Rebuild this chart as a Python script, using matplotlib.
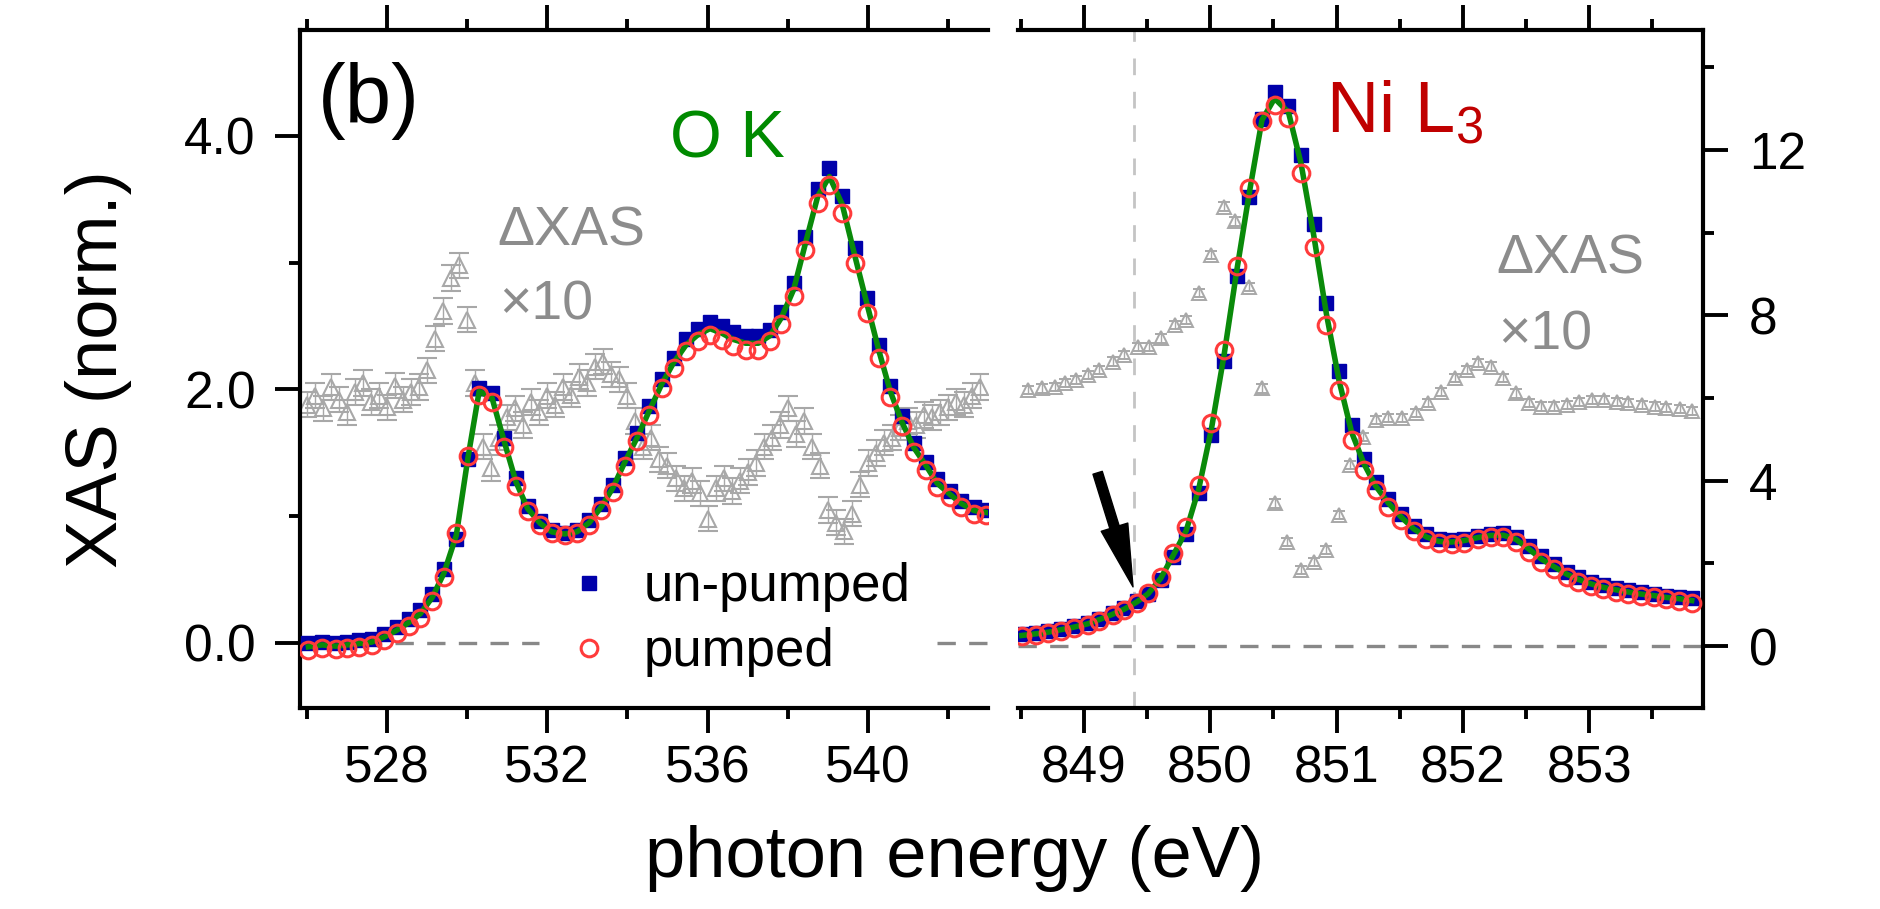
import matplotlib
matplotlib.use('Agg')
import matplotlib.pyplot as plt
from matplotlib.ticker import MultipleLocator, FormatStrFormatter

plt.rcParams['font.family'] = ['Liberation Sans', 'DejaVu Sans']
plt.rcParams['mathtext.fontset'] = 'custom'
plt.rcParams['mathtext.rm'] = 'Liberation Sans'
plt.rcParams['mathtext.it'] = 'Liberation Sans:italic'

# ---- O K edge (left panel, left axis) ----
ok_energy = [526.04, 526.38, 526.73, 527.01, 527.30, 527.62, 527.93, 528.24, 528.54, 528.83,
             529.13, 529.42, 529.73, 530.02, 530.30, 530.62, 530.93, 531.22, 531.51, 531.82,
             532.11, 532.43, 532.74, 533.05, 533.35, 533.63, 533.94, 534.25, 534.55, 534.86,
             535.15, 535.46, 535.75, 536.06, 536.35, 536.64, 536.95, 537.27, 537.56, 537.84,
             538.15, 538.44, 538.75, 539.04, 539.36, 539.67, 539.99, 540.28, 540.56, 540.84,
             541.14, 541.45, 541.73, 542.04, 542.33, 542.65, 542.94]
ok_pumped = [-0.055, -0.04, -0.05, -0.04, -0.03, -0.016, 0.024, 0.076, 0.134, 0.20,
             0.33, 0.52, 0.87, 1.475, 1.96, 1.90, 1.55, 1.24, 1.04, 0.93,
             0.865, 0.85, 0.865, 0.93, 1.05, 1.19, 1.40, 1.59, 1.80, 2.01,
             2.17, 2.30, 2.38, 2.43, 2.39, 2.34, 2.31, 2.31, 2.38, 2.52,
             2.74, 3.10, 3.47, 3.61, 3.39, 3.00, 2.60, 2.25, 1.94, 1.71,
             1.51, 1.365, 1.23, 1.15, 1.075, 1.02, 1.01]
ok_unpumped = [0.0, 0.01, 0.0, 0.01, 0.02, 0.03, 0.07, 0.13, 0.19, 0.26,
               0.39, 0.585, 0.82, 1.45, 2.01, 1.97, 1.62, 1.30, 1.08, 0.96,
               0.89, 0.87, 0.89, 0.97, 1.10, 1.25, 1.46, 1.66, 1.87, 2.08,
               2.25, 2.40, 2.48, 2.53, 2.50, 2.45, 2.42, 2.42, 2.47, 2.61,
               2.84, 3.20, 3.58, 3.75, 3.53, 3.12, 2.72, 2.35, 2.03, 1.79,
               1.58, 1.43, 1.29, 1.20, 1.12, 1.07, 1.05]
ok_fit = [-0.03, -0.015, -0.025, -0.015, -0.005, 0.007, 0.047, 0.10, 0.16, 0.23,
          0.36, 0.55, 0.85, 1.46, 1.985, 1.935, 1.585, 1.27, 1.06, 0.945,
          0.877, 0.86, 0.877, 0.95, 1.075, 1.22, 1.43, 1.625, 1.835, 2.045,
          2.21, 2.35, 2.43, 2.48, 2.445, 2.395, 2.365, 2.365, 2.425, 2.565,
          2.79, 3.15, 3.525, 3.68, 3.46, 3.06, 2.66, 2.30, 1.985, 1.75,
          1.545, 1.40, 1.26, 1.175, 1.10, 1.045, 1.03]

ok_d_energy = [526.0, 526.2, 526.4, 526.6, 526.8, 527.0, 527.2, 527.4, 527.6, 527.8,
               528.0, 528.2, 528.4, 528.6, 528.8, 529.0, 529.2, 529.4, 529.6, 529.8,
               530.0, 530.2, 530.4, 530.6, 530.8, 531.0, 531.2, 531.4, 531.6, 531.8,
               532.0, 532.2, 532.4, 532.6, 532.8, 533.0, 533.2, 533.4, 533.6, 533.8,
               534.0, 534.2, 534.4, 534.6, 534.8, 535.0, 535.2, 535.4, 535.6, 535.8,
               536.0, 536.2, 536.4, 536.6, 536.8, 537.0, 537.2, 537.4, 537.6, 537.8,
               538.0, 538.2, 538.4, 538.6, 538.8, 539.0, 539.2, 539.4, 539.6, 539.8,
               540.0, 540.2, 540.4, 540.6, 540.8, 541.0, 541.2, 541.4, 541.6, 541.8,
               542.0, 542.2, 542.4, 542.6, 542.8]
ok_delta = [1.88, 1.95, 1.85, 2.02, 1.92, 1.82, 1.98, 2.05, 1.90, 1.95,
            1.86, 2.03, 1.92, 1.98, 2.02, 2.15, 2.40, 2.62, 2.88, 2.98,
            2.55, 2.05, 1.55, 1.38, 1.62, 1.78, 1.85, 1.72, 1.90, 1.82,
            1.95, 1.88, 2.02, 1.96, 2.10, 2.05, 2.18, 2.22, 2.12, 2.08,
            1.95, 1.75, 1.55, 1.62, 1.45, 1.40, 1.30, 1.22, 1.28, 1.18,
            0.98, 1.22, 1.30, 1.20, 1.28, 1.35, 1.42, 1.55, 1.62, 1.72,
            1.85, 1.65, 1.75, 1.55, 1.40, 1.05, 0.95, 0.88, 1.02, 1.25,
            1.42, 1.50, 1.58, 1.62, 1.70, 1.75, 1.72, 1.80, 1.78, 1.82,
            1.86, 1.90, 1.88, 1.95, 2.02]

# ---- Ni L3 edge (right panel, right axis) ----
ni_energy = [848.51, 848.62, 848.72, 848.82, 848.92, 849.03, 849.12, 849.23, 849.32, 849.42,
             849.51, 849.61, 849.71, 849.81, 849.91, 850.01, 850.11, 850.21, 850.31, 850.41,
             850.51, 850.62, 850.72, 850.82, 850.92, 851.02, 851.12, 851.22, 851.31, 851.41,
             851.51, 851.61, 851.71, 851.81, 851.91, 852.01, 852.12, 852.22, 852.32, 852.42,
             852.52, 852.62, 852.72, 852.82, 852.91, 853.01, 853.11, 853.21, 853.31, 853.41,
             853.51, 853.61, 853.71, 853.81]
ni_pumped = [0.23, 0.27, 0.31, 0.37, 0.43, 0.51, 0.61, 0.75, 0.87, 1.05,
             1.28, 1.68, 2.26, 2.87, 3.90, 5.39, 7.16, 9.18, 11.07, 12.69,
             13.09, 12.77, 11.44, 9.66, 7.77, 6.19, 4.98, 4.26, 3.77, 3.37,
             3.05, 2.77, 2.58, 2.48, 2.47, 2.50, 2.58, 2.63, 2.63, 2.52,
             2.28, 2.04, 1.86, 1.68, 1.56, 1.45, 1.37, 1.31, 1.26, 1.21,
             1.18, 1.13, 1.10, 1.05]
ni_unpumped = [0.28, 0.32, 0.36, 0.42, 0.48, 0.56, 0.66, 0.79, 0.91, 1.08,
               1.25, 1.60, 2.15, 2.70, 3.70, 5.10, 6.90, 8.95, 10.85, 12.75,
               13.40, 13.05, 11.88, 10.20, 8.30, 6.65, 5.35, 4.52, 3.97, 3.55,
               3.20, 2.90, 2.70, 2.58, 2.56, 2.60, 2.67, 2.72, 2.73, 2.64,
               2.42, 2.17, 1.98, 1.80, 1.67, 1.56, 1.47, 1.41, 1.35, 1.30,
               1.26, 1.22, 1.19, 1.15]
ni_fit = [0.255, 0.295, 0.335, 0.395, 0.455, 0.535, 0.635, 0.77, 0.89, 1.065,
          1.265, 1.64, 2.205, 2.785, 3.80, 5.245, 7.03, 9.065, 10.96, 12.72,
          13.245, 12.91, 11.66, 9.93, 8.035, 6.42, 5.165, 4.39, 3.87, 3.46,
          3.125, 2.835, 2.64, 2.53, 2.515, 2.55, 2.625, 2.675, 2.68, 2.58,
          2.35, 2.105, 1.92, 1.74, 1.615, 1.505, 1.42, 1.36, 1.305, 1.255,
          1.22, 1.175, 1.145, 1.10]

ni_d_energy = [848.56, 848.67, 848.77, 848.85, 848.94, 849.03, 849.12, 849.23, 849.32, 849.43,
               849.52, 849.61, 849.72, 849.81, 849.91, 850.01, 850.11, 850.20, 850.31, 850.41,
               850.51, 850.61, 850.72, 850.82, 850.92, 851.02, 851.11, 851.21, 851.31, 851.41,
               851.52, 851.63, 851.72, 851.83, 851.94, 852.03, 852.12, 852.22, 852.32, 852.42,
               852.52, 852.62, 852.72, 852.82, 852.92, 853.02, 853.12, 853.22, 853.31, 853.42,
               853.52, 853.61, 853.72, 853.81]
ni_delta = [6.19, 6.23, 6.27, 6.36, 6.44, 6.56, 6.68, 6.88, 7.04, 7.24,
            7.24, 7.44, 7.77, 7.89, 8.53, 9.46, 10.63, 10.27, 8.69, 6.23,
            3.45, 2.52, 1.84, 2.04, 2.32, 3.17, 4.38, 5.06, 5.47, 5.51,
            5.51, 5.63, 5.87, 6.15, 6.48, 6.68, 6.84, 6.76, 6.48, 6.11,
            5.87, 5.79, 5.79, 5.83, 5.91, 5.95, 5.95, 5.91, 5.87, 5.83,
            5.79, 5.75, 5.73, 5.69]

BLUE = '#0000aa'
RED = '#ff3b3b'
GREEN = '#0a8a0a'
GRAY = '#a8a8a8'
TXTGRAY = '#8c8c8c'

fig = plt.figure(figsize=(18.81, 9.09), dpi=100)
ax1 = fig.add_axes([0.1595, 0.2211, 0.3658, 0.7459])
ax2 = fig.add_axes([0.5412, 0.2211, 0.3642, 0.7459])

# left panel
ax1.errorbar(ok_d_energy, ok_delta, yerr=0.1, fmt='^', ms=11, mfc='none', mec=GRAY, mew=1.5,
             ecolor=GRAY, elinewidth=1, capsize=7, zorder=2)
ax1.plot(ok_energy, ok_unpumped, 's', color=BLUE, ms=10, zorder=3, label='un-pumped')
ax1.plot(ok_energy, ok_fit, '-', color=GREEN, lw=4, zorder=4)
ax1.plot(ok_energy, ok_pumped, 'o', mfc='none', mec=RED, mew=2.2, ms=12, zorder=5, label='pumped')
ax1.plot([525.83, 531.8], [0, 0], color='#888888', lw=2.4, dashes=(5.5, 4), zorder=1)
ax1.plot([541.72, 543.0], [0, 0], color='#888888', lw=2.4, dashes=(5.5, 4), zorder=1)

ax1.set_xlim(525.83, 543.0)
ax1.set_ylim(-0.513, 4.836)
ax1.xaxis.set_major_locator(MultipleLocator(4))
ax1.xaxis.set_minor_locator(MultipleLocator(2))
ax1.yaxis.set_major_locator(MultipleLocator(2))
ax1.yaxis.set_minor_locator(MultipleLocator(1))
ax1.yaxis.set_major_formatter(FormatStrFormatter('%.1f'))
ax1.spines['right'].set_visible(False)
ax1.tick_params(axis='x', which='both', bottom=True, top=True, direction='out')
ax1.tick_params(axis='y', which='both', left=True, right=False, direction='out')

# right panel
ax2.errorbar(ni_d_energy, ni_delta, yerr=0.1, fmt='^', ms=9.5, mfc='none', mec=GRAY, mew=1.4,
             ecolor=GRAY, elinewidth=1, capsize=4, zorder=2)
ax2.plot(ni_energy, ni_unpumped, 's', color=BLUE, ms=10, zorder=3)
ax2.plot(ni_energy, ni_fit, '-', color=GREEN, lw=4, zorder=4)
ax2.plot(ni_energy, ni_pumped, 'o', mfc='none', mec=RED, mew=2.2, ms=12, zorder=5)
ax2.axhline(0, color='#888888', lw=2.4, dashes=(5.5, 4), zorder=1)
ax2.axvline(849.4, color='#c4c4c4', lw=2, dashes=(6, 6), zorder=1)
ax2.annotate('', xy=(849.39, 1.43), xytext=(849.11, 4.19),
             arrowprops=dict(arrowstyle='simple,head_length=1.8,head_width=0.8,tail_width=0.28',
                             color='black', mutation_scale=25, shrinkA=0, shrinkB=0), zorder=6)

ax2.set_xlim(848.48, 853.9)
ax2.set_ylim(-1.5, 14.9)
ax2.xaxis.set_major_locator(MultipleLocator(1))
ax2.xaxis.set_minor_locator(MultipleLocator(0.5))
ax2.yaxis.set_major_locator(MultipleLocator(4))
ax2.yaxis.set_minor_locator(MultipleLocator(2))
ax2.spines['left'].set_visible(False)
ax2.yaxis.tick_right()
ax2.tick_params(axis='x', which='both', bottom=True, top=True, direction='out')
ax2.tick_params(axis='y', which='both', left=False, right=True, direction='out')

for ax in (ax1, ax2):
    for sp in ax.spines.values():
        sp.set_linewidth(3)
    ax.tick_params(which='major', length=18, width=2.8, labelsize=37)
    ax.tick_params(which='minor', length=8, width=2.8)
    ax.tick_params(axis='x', which='major', pad=8)
ax1.tick_params(axis='y', which='major', pad=14)
ax2.tick_params(axis='y', which='major', pad=15)

leg = ax1.legend(loc='center left', bbox_to_anchor=(0.381, 0.13), frameon=False,
                 fontsize=38, handlelength=1.0, handletextpad=0.55, labelspacing=0.28,
                 borderpad=0, borderaxespad=0, numpoints=1)

# texts
fig.text(318 / 1881, 1 - 123 / 909, '(b)', fontsize=60, ha='left', va='baseline')
fig.text(670 / 1881, 1 - 158 / 909, 'O K', fontsize=48, color='#008a00', ha='left', va='baseline')
fig.text(1326 / 1881, 1 - 132 / 909, 'Ni L$_3$', fontsize=52, color='#c00000', ha='left', va='baseline')
fig.text(497 / 1881, 1 - 245 / 909, '\u0394XAS', fontsize=40, color=TXTGRAY, ha='left', va='baseline')
fig.text(499 / 1881, 1 - 320 / 909, '\u00d710', fontsize=40, color=TXTGRAY, ha='left', va='baseline')
fig.text(1496 / 1881, 1 - 273 / 909, '\u0394XAS', fontsize=40, color=TXTGRAY, ha='left', va='baseline')
fig.text(1498 / 1881, 1 - 350 / 909, '\u00d710', fontsize=40, color=TXTGRAY, ha='left', va='baseline')
fig.text(98 / 1881, 1 - 369 / 909, 'XAS (norm.)', fontsize=52, rotation=90, ha='center', va='center')
fig.text(645 / 1881, 1 - 877 / 909, 'photon energy (eV)', fontsize=52, ha='left', va='baseline')

fig.savefig('out.png', dpi=100)
